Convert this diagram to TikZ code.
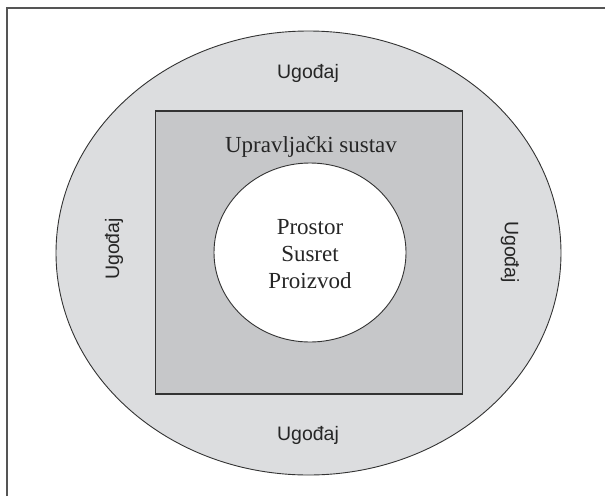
\documentclass[tikz,border=0pt]{standalone}
\usepackage{fontspec}
\setmainfont{Liberation Serif}
\newfontfamily\ugsans{Liberation Sans}
\usetikzlibrary{shapes.geometric}
\definecolor{outerfill}{HTML}{DCDDDF}
\definecolor{boxfill}{HTML}{C6C7C9}
\definecolor{edgecol}{HTML}{333333}
\definecolor{framecol}{HTML}{555555}
\tikzset{
  outerell/.style={ellipse, draw=edgecol, fill=outerfill, line width=0.9pt, minimum width=505pt, minimum height=444pt, inner sep=0pt},
  boxsq/.style={rectangle, draw=edgecol, fill=boxfill, line width=1.1pt, minimum width=307pt, minimum height=283pt, inner sep=0pt},
  innerell/.style={ellipse, draw=edgecol, fill=white, line width=0.9pt, minimum width=192pt, minimum height=179pt, inner sep=0pt},
  serlbl/.style={font=\fontsize{23}{27}\selectfont, text=black!85, align=center, inner sep=0pt},
  uglbl/.style={font=\ugsans\fontsize{19.5}{23}\selectfont, text=black!85, inner sep=0pt}
}
\begin{document}
\begin{tikzpicture}[x=1pt,y=-1pt]
\useasboundingbox (0,0) rectangle (605,496);
\coordinate (fb) at (7,496);
\coordinate (fc) at (7,8);
\coordinate (fr) at (605,8);
\draw[framecol, line width=1.2pt] (fb) -- (fc) -- (fr);
\node[outerell] (outer) at (308.5,253) {};
\node[boxsq] (box) at (309,252.5) {};
\node[innerell] (inner) at (310,252.5) {};
\node[serlbl] (sys) at (311,147) {Upravljački sustav};
\node[serlbl] (core) at (310,254) {Prostor\\Susret\\Proizvod};
\node[uglbl] (ugt) at (308,73) {Ugođaj};
\node[uglbl] (ugb) at (308,435) {Ugođaj};
\node[uglbl, rotate=90] (ugl) at (114,249) {Ugođaj};
\node[uglbl, rotate=-90] (ugr) at (510,252) {Ugođaj};
\end{tikzpicture}
\end{document}
